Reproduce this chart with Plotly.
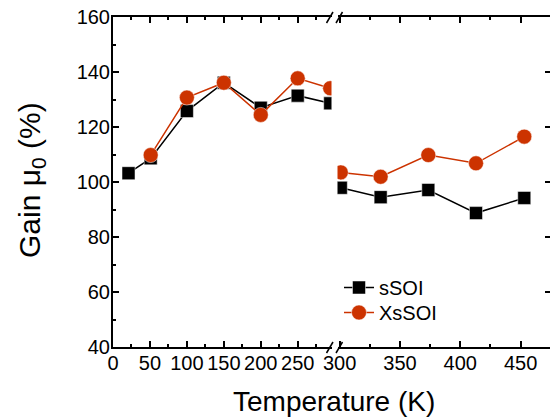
import plotly.graph_objects as go

# ---- data ----
T_low = [21, 51, 100, 150, 200, 250, 294]
sSOI_low = [103.2, 108.6, 125.8, 136.1, 127.0, 131.4, 128.6]
XsSOI_low = [None, 109.8, 130.7, 136.1, 124.4, 137.7, 134.1]

T_high = [301, 334, 373.5, 413, 453]
sSOI_high = [97.9, 94.5, 97.1, 88.7, 94.2]
XsSOI_high = [103.5, 101.9, 109.8, 106.8, 116.5]

series_names = ["sSOI", "XsSOI"]
x_title = "Temperature (K)"
y_title = "Gain μ<sub>0</sub> (%)"

# ---- geometry helpers (pixels -> paper) ----
W, H = 550, 419
L, R, T, B = 113, 0, 17, 72
PW, PH = W - L - R, H - T - B


def px(x):
    return (x - L) / PW


def py(y):
    return (H - B - y) / PH


FONT = "Arial, Liberation Sans, sans-serif"
BLACK = "#000000"
RED = "#cc3300"

fig = go.Figure()

fig.add_trace(go.Scatter(x=T_low, y=sSOI_low, name=series_names[0], mode="lines+markers",
                         line=dict(color=BLACK, width=1.5),
                         marker=dict(symbol="square", size=13, color=BLACK,
                                     line=dict(color="white", width=0.5)),
                         xaxis="x", yaxis="y", legend="legend"))
fig.add_trace(go.Scatter(x=T_low, y=XsSOI_low, name=series_names[1], mode="lines+markers",
                         line=dict(color=RED, width=1.5),
                         marker=dict(symbol="circle", size=15, color=RED,
                                     line=dict(color="white", width=0.5)),
                         xaxis="x", yaxis="y", legend="legend2"))
fig.add_trace(go.Scatter(x=T_high, y=sSOI_high, name=series_names[0], mode="lines+markers",
                         line=dict(color=BLACK, width=1.5),
                         marker=dict(symbol="square", size=13, color=BLACK,
                                     line=dict(color="white", width=0.5)),
                         xaxis="x2", yaxis="y2", showlegend=False))
fig.add_trace(go.Scatter(x=T_high, y=XsSOI_high, name=series_names[1], mode="lines+markers",
                         line=dict(color=RED, width=1.5),
                         marker=dict(symbol="circle", size=15, color=RED,
                                     line=dict(color="white", width=0.5)),
                         xaxis="x2", yaxis="y2", showlegend=False))

tickfont = dict(family=FONT, size=20, color=BLACK)
axis_common = dict(showline=True, linecolor=BLACK, linewidth=2, ticks="inside",
                   ticklen=6, tickwidth=1.5, tickcolor=BLACK, showgrid=False,
                   zeroline=False, tickfont=tickfont)

left_end = 331.5
right_start = 337.5
x_scale_low = 0.7388
x_scale_high = 1.207
x300_px = 339.6

legend_common = dict(xanchor="left", yanchor="top",
                     font=dict(family=FONT, size=20, color=BLACK),
                     bgcolor="rgba(0,0,0,0)")

fig.update_layout(
    width=W, height=H,
    margin=dict(l=L, r=R, t=T, b=B),
    paper_bgcolor="white", plot_bgcolor="white",
    xaxis=dict(domain=[0, px(left_end)], range=[0, (left_end - L) / x_scale_low],
               tick0=0, dtick=50, mirror="ticks", anchor="y", ticklabelstandoff=-3,
               minor=dict(dtick=25, ticks="inside", ticklen=3, tickwidth=1.5, tickcolor=BLACK),
               **axis_common),
    xaxis2=dict(domain=[px(right_start), 1],
                range=[300 + (right_start - x300_px) / x_scale_high,
                       300 + (W - x300_px) / x_scale_high],
                tick0=300, dtick=50, mirror="ticks", anchor="y2", ticklabelstandoff=-3,
                minor=dict(dtick=25, ticks="inside", ticklen=3, tickwidth=1.5, tickcolor=BLACK),
                **axis_common),
    yaxis=dict(range=[40, 160], tick0=40, dtick=20, anchor="x", ticklabelstandoff=-3,
               minor=dict(dtick=10, ticks="inside", ticklen=3, tickwidth=1.5, tickcolor=BLACK),
               **axis_common),
    yaxis2=dict(range=[40, 160], tick0=40, dtick=20, anchor="x2", side="right",
                showline=False, ticks="inside", ticklen=5, tickwidth=1.5, tickcolor=BLACK,
                showticklabels=False, showgrid=False, zeroline=False),
    showlegend=True,
    legend=dict(x=px(339), y=py(268), **legend_common),
    legend2=dict(x=px(339), y=py(293), **legend_common),
    annotations=[
        dict(text=x_title, x=px(334), y=py(401), xref="paper", yref="paper",
             showarrow=False, xanchor="center", yanchor="middle",
             font=dict(family=FONT, size=28, color=BLACK)),
        dict(text=y_title, x=px(31), y=py(180), xref="paper", yref="paper",
             showarrow=False, xanchor="center", yanchor="middle", textangle=-90,
             font=dict(family=FONT, size=30, color=BLACK)),
    ],
)

# axis-break marks (//) on the bottom and top axes
shapes = []
for ybase in (347, 17):
    for (x0, x1) in ((326.5, 333.0), (336.0, 342.5)):
        shapes.append(dict(type="line", xref="paper", yref="paper",
                           x0=px(x0), y0=py(ybase + 6), x1=px(x1), y1=py(ybase - 5),
                           line=dict(color=BLACK, width=1.5)))
fig.update_layout(shapes=shapes)

fig.write_html("out.html", config={"displayModeBar": False},
               post_script="document.body.style.margin='0';document.body.style.overflow='hidden';")
